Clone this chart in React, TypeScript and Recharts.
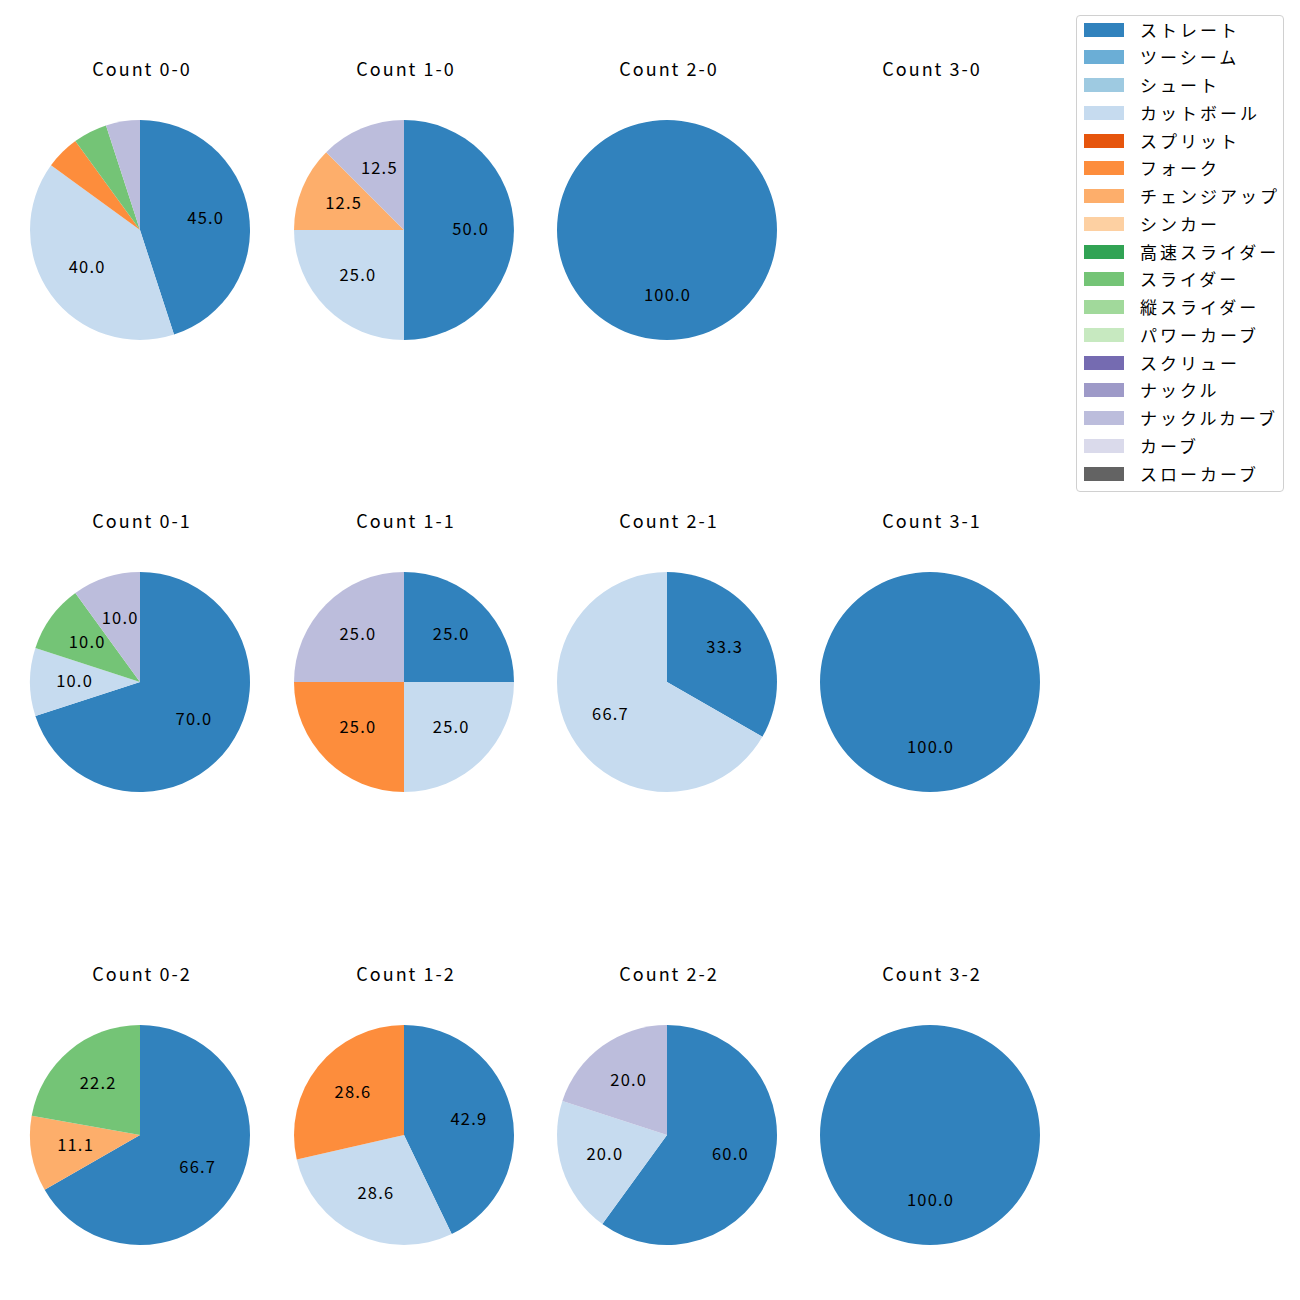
import { Cell, Pie, PieChart } from 'recharts'

const PITCH_TYPES = [
  'ストレート', 'ツーシーム', 'シュート', 'カットボール', 'スプリット', 'フォーク',
  'チェンジアップ', 'シンカー', '高速スライダー', 'スライダー', '縦スライダー',
  'パワーカーブ', 'スクリュー', 'ナックル', 'ナックルカーブ', 'カーブ', 'スローカーブ',
]
const PITCH_COLORS = [
  '#3182bd', '#6baed6', '#9ecae1', '#c6dbef', '#e6550d', '#fd8d3c',
  '#fdae6b', '#fdd0a2', '#31a354', '#74c476', '#a1d99b',
  '#c7e9c0', '#756bb1', '#9e9ac8', '#bcbddc', '#dadaeb', '#636363',
]

// counts (balls-strikes), laid out row by row
const COUNT_LABELS = ['0-0', '1-0', '2-0', '3-0', '0-1', '1-1', '2-1', '3-1', '0-2', '1-2', '2-2', '3-2']

// share of each pitch type (%) per count
const count00Types = ['ストレート', 'カットボール', 'フォーク', 'スライダー', 'ナックルカーブ']
const count00Values = [45.0, 40.0, 5.0, 5.0, 5.0]
const count10Types = ['ストレート', 'カットボール', 'チェンジアップ', 'ナックルカーブ']
const count10Values = [50.0, 25.0, 12.5, 12.5]
const count20Types = ['ストレート']
const count20Values = [100.0]
const count30Types: string[] = []
const count30Values: number[] = []
const count01Types = ['ストレート', 'カットボール', 'スライダー', 'ナックルカーブ']
const count01Values = [70.0, 10.0, 10.0, 10.0]
const count11Types = ['ストレート', 'カットボール', 'フォーク', 'ナックルカーブ']
const count11Values = [25.0, 25.0, 25.0, 25.0]
const count21Types = ['ストレート', 'カットボール']
const count21Values = [33.3, 66.7]
const count31Types = ['ストレート']
const count31Values = [100.0]
const count02Types = ['ストレート', 'チェンジアップ', 'スライダー']
const count02Values = [66.7, 11.1, 22.2]
const count12Types = ['ストレート', 'カットボール', 'フォーク']
const count12Values = [42.9, 28.6, 28.6]
const count22Types = ['ストレート', 'カットボール', 'ナックルカーブ']
const count22Values = [60.0, 20.0, 20.0]
const count32Types = ['ストレート']
const count32Values = [100.0]

const COUNT_TYPES = [
  count00Types, count10Types, count20Types, count30Types,
  count01Types, count11Types, count21Types, count31Types,
  count02Types, count12Types, count22Types, count32Types,
]
const COUNT_VALUES = [
  count00Values, count10Values, count20Values, count30Values,
  count01Values, count11Values, count21Values, count31Values,
  count02Values, count12Values, count22Values, count32Values,
]

const FONT = '"Noto Sans CJK JP", "Noto Sans", sans-serif'
const COL_X = [140, 404, 667, 930]
const ROW_Y = [230, 682, 1135]
const TITLE_OFFSET = 162
const RADIUS = 110
const BOX = 240
const RADIAN = Math.PI / 180

function renderLabel(props: any) {
  const { cx, cy, midAngle, outerRadius, value } = props
  // matplotlib skips the tiny slices
  if (value < 6) return null
  const r = outerRadius * 0.6
  const x = cx + r * Math.cos(-midAngle * RADIAN)
  const y = cy + r * Math.sin(-midAngle * RADIAN) - 2.5
  return (
    <text
      x={x + 0.6}
      y={y}
      textAnchor="middle"
      dominantBaseline="central"
      fontSize={16.5}
      letterSpacing={1.2}
      fill="#000"
      fontFamily={FONT}
    >
      {Number(value).toFixed(1)}
    </text>
  )
}

function CountPie({ index }: { index: number }) {
  const cx = COL_X[index % 4]
  const cy = ROW_Y[Math.floor(index / 4)]
  const data = COUNT_TYPES[index].map((t, i) => ({ name: t, value: COUNT_VALUES[index][i] }))
  return (
    <>
      <div
        style={{
          position: 'absolute', left: cx - 100 + 2, top: cy - TITLE_OFFSET - 12, width: 200, height: 24,
          textAlign: 'center', fontSize: 18, lineHeight: '24px', letterSpacing: 2, fontFamily: FONT, color: '#000',
        }}
      >
        Count {COUNT_LABELS[index]}
      </div>
      {data.length > 0 && (
        <div style={{ position: 'absolute', left: cx - BOX / 2, top: cy - BOX / 2 }}>
          <PieChart width={BOX} height={BOX}>
            <Pie
              data={data}
              dataKey="value"
              nameKey="name"
              cx="50%"
              cy="50%"
              outerRadius={RADIUS}
              startAngle={90}
              endAngle={-270}
              stroke="none"
              label={renderLabel}
              labelLine={false}
              isAnimationActive={false}
            >
              {data.map((d) => (
                <Cell key={d.name} fill={PITCH_COLORS[PITCH_TYPES.indexOf(d.name)]} />
              ))}
            </Pie>
          </PieChart>
        </div>
      )}
    </>
  )
}

function PitchLegend() {
  return (
    <div
      style={{
        position: 'absolute', left: 1076, top: 15, width: 206, height: 475,
        border: '1px solid #d0d0d0', borderRadius: 4, background: '#fff', fontFamily: FONT,
      }}
    >
      {PITCH_TYPES.map((t, i) => (
        <div key={t} style={{ position: 'absolute', left: 0, top: 13.5 + i * 27.75 - 14, height: 28, width: 206 }}>
          <div style={{ position: 'absolute', left: 7, top: 7, width: 40, height: 14, background: PITCH_COLORS[i] }} />
          <div
            style={{
              position: 'absolute', left: 63, top: 0, lineHeight: '28px', fontSize: 17, letterSpacing: 3,
              color: '#000', whiteSpace: 'nowrap',
            }}
          >
            {t}
          </div>
        </div>
      ))}
    </div>
  )
}

export default function App() {
  return (
    <div style={{ position: 'absolute', left: 0, top: 0, width: 1300, height: 1300, background: '#fff' }}>
      {COUNT_LABELS.map((_, i) => (
        <CountPie key={i} index={i} />
      ))}
      <PitchLegend />
    </div>
  )
}
